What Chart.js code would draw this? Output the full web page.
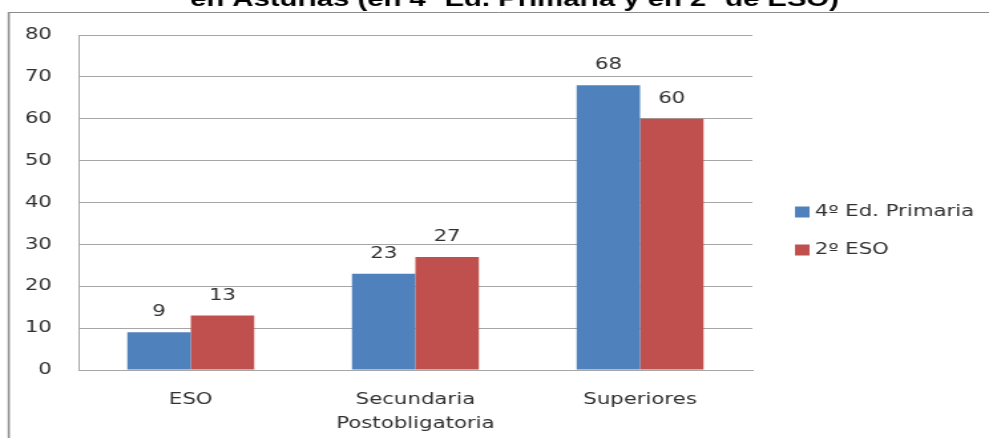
<!DOCTYPE html>
<html lang="es">
<head>
    <meta charset="UTF-8">
    <title>Estudios esperados</title>
    <script src="https://cdn.jsdelivr.net/npm/chart.js@4.4.1/dist/chart.umd.min.js"></script>
    <style>
        html, body { margin: 0; padding: 0; background: #fff; overflow: hidden; }
        /* the reference is horizontally stretched, so draw narrower and stretch */
        #wrap {
            position: absolute; left: 0; top: 0;
            width: 744px; height: 438px;
            transform: scaleX(1.3293); transform-origin: 0 0;
        }
    </style>
</head>
<body>
    <div id="wrap"><canvas id="myChart"></canvas></div>
    <script>
        var titleText = 'en Asturias (en 4º Ed. Primaria y en 2º de ESO)';
        var categories = [['ESO'], ['Secundaria', 'Postobligatoria'], ['Superiores']];
        var primaria = [9, 23, 68];
        var eso = [13, 27, 60];
        var seriesNames = ['4º Ed. Primaria', '2º ESO'];
        var seriesColors = ['#4F81BD', '#C0504D'];
        var yTicks = [0, 10, 20, 30, 40, 50, 60, 70, 80];

        var font = '"DejaVu Sans", sans-serif';
        var textColor = '#303030';
        var gridColor = '#a6a6a6';

        // frame, title, value labels and legend
        var extras = {
            id: 'extras',
            afterDraw: function (chart) {
                var ctx = chart.ctx;
                ctx.save();
                ctx.strokeStyle = '#8c8c8c';
                ctx.lineWidth = 1;
                ctx.beginPath();
                ctx.moveTo(6.5, 12.5);
                ctx.lineTo(chart.width, 12.5);
                ctx.stroke();
                ctx.lineWidth = 1.6;
                ctx.beginPath();
                ctx.moveTo(6.6, 12);
                ctx.lineTo(6.6, chart.height);
                ctx.stroke();

                ctx.fillStyle = '#000';
                ctx.font = 'bold 22px "Liberation Sans", Arial, sans-serif';
                ctx.textAlign = 'center';
                ctx.textBaseline = 'alphabetic';
                ctx.fillText(titleText, 387, 6);

                ctx.font = '16px ' + font;
                ctx.fillStyle = textColor;
                ctx.textBaseline = 'middle';
                chart.data.datasets.forEach(function (ds, i) {
                    chart.getDatasetMeta(i).data.forEach(function (bar, j) {
                        ctx.fillText(ds.data[j], bar.x, bar.y - 20);
                    });
                });

                ctx.textAlign = 'left';
                chart.data.datasets.forEach(function (ds, i) {
                    var y = 212 + i * 38;
                    ctx.fillStyle = ds.backgroundColor;
                    ctx.fillRect(598, y - 5.5, 11, 11);
                    ctx.fillStyle = textColor;
                    ctx.fillText(ds.label, 613, y);
                });
                ctx.restore();
            }
        };

        var ctx = document.getElementById('myChart').getContext('2d');
        var myChart = new Chart(ctx, {
            type: 'bar',
            data: {
                labels: categories,
                datasets: [{
                    label: seriesNames[0],
                    data: primaria,
                    backgroundColor: seriesColors[0]
                }, {
                    label: seriesNames[1],
                    data: eso,
                    backgroundColor: seriesColors[1]
                }]
            },
            options: {
                responsive: true,
                maintainAspectRatio: false,
                animation: false,
                layout: { padding: { top: 35, right: 178, left: 0, bottom: 0 } },
                datasets: { bar: { categoryPercentage: 0.565, barPercentage: 1 } },
                plugins: {
                    legend: { display: false },
                    tooltip: { enabled: false }
                },
                scales: {
                    x: {
                        grid: { display: false },
                        border: { color: gridColor },
                        ticks: {
                            color: textColor,
                            font: { family: font, size: 16, lineHeight: 1.5 },
                            padding: 10,
                            maxRotation: 0
                        },
                        afterFit: function (s) { s.height = 68; }
                    },
                    y: {
                        min: 0,
                        max: 80,
                        afterBuildTicks: function (s) {
                            s.ticks = yTicks.map(function (v) { return { value: v }; });
                        },
                        grid: { color: gridColor, drawTicks: false },
                        border: { color: gridColor },
                        ticks: {
                            color: textColor,
                            font: { family: font, size: 16 },
                            padding: 20
                        },
                        afterFit: function (s) { s.width = 59; }
                    }
                }
            },
            plugins: [extras]
        });
    </script>
</body>
</html>
